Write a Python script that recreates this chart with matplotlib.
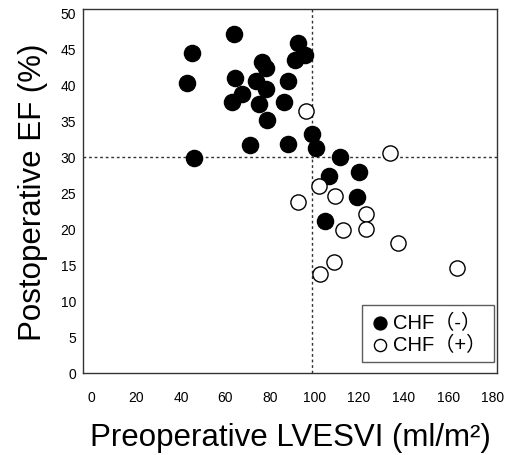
import matplotlib
matplotlib.use("Agg")
import matplotlib.pyplot as plt
from matplotlib.font_manager import FontProperties

plt.rcParams['font.family'] = ['Liberation Sans', 'DejaVu Sans']

# CHF (-) : filled circles
neg_x = [42.8, 45.0, 45.9, 63.9, 64.4, 63.0, 67.5, 71.1, 73.8, 76.5, 78.3, 75.2, 78.3, 78.8,
         86.4, 88.2, 88.0, 91.4, 92.7, 95.9, 98.8, 100.8, 111.6, 106.4, 119.9, 119.1, 104.9]
neg_y = [40.3, 44.4, 29.9, 47.1, 41.0, 37.6, 38.8, 31.7, 40.6, 43.2, 42.4, 37.4, 39.4, 35.1,
         37.6, 40.6, 31.8, 43.5, 45.8, 44.2, 33.2, 31.2, 30.0, 27.3, 27.9, 24.5, 21.1]
# CHF (+) : open circles
pos_x = [96.3, 134.1, 101.9, 109.4, 92.4, 122.9, 112.8, 122.9, 137.4, 108.9, 102.3, 163.8]
pos_y = [36.4, 30.5, 26.0, 24.6, 23.8, 22.1, 19.9, 20.0, 18.0, 15.4, 13.8, 14.6]

x_ticks = [0, 20, 40, 60, 80, 100, 120, 140, 160, 180]
y_ticks = [0, 5, 10, 15, 20, 25, 30, 35, 40, 45, 50]
x_cut = 99
y_cut = 30

fig = plt.figure(figsize=(5.12, 4.56), dpi=100)
ax = fig.add_axes([0.162, 0.180, 0.809, 0.798])

ax.axvline(x_cut, color='#333333', linestyle=(0, (2, 2)), linewidth=1, zorder=1)
ax.axhline(y_cut, color='#333333', linestyle=(0, (2, 2)), linewidth=1, zorder=1)

ax.scatter(neg_x, neg_y, s=135, facecolor='black', edgecolor='black', linewidth=1,
           zorder=3, label='CHF（-）')
ax.scatter(pos_x, pos_y, s=120, facecolor='white', edgecolor='black', linewidth=1,
           zorder=3, label='CHF（+）')

ax.set_xlim(-4, 182)
ax.set_ylim(0, 50.55)
ax.set_xticks(x_ticks)
ax.set_yticks(y_ticks)
ax.tick_params(length=0, labelsize=10)
ax.tick_params(axis='x', pad=12.5)
ax.tick_params(axis='y', pad=5)
for sp in ax.spines.values():
    sp.set_linewidth(1)
    sp.set_color('#333333')

ax.set_xlabel('Preoperative LVESVI (ml/m²)', fontsize=22.5, labelpad=13)
ax.set_ylabel('Postoperative EF (%)', fontsize=22.5, labelpad=9)

leg_font = FontProperties(family=['Liberation Sans', 'Noto Sans CJK JP', 'DejaVu Sans'], size=14.5)
leg = ax.legend(loc='lower right', bbox_to_anchor=(0.992, 0.03), prop=leg_font,
                frameon=True, fancybox=False,
                edgecolor='#333333', markerscale=0.8, handletextpad=0.1,
                labelspacing=0.12, borderpad=0.4, handlelength=1.0,
                borderaxespad=0.0)
leg.get_frame().set_linewidth(1)

fig.savefig('out.png', dpi=100)
